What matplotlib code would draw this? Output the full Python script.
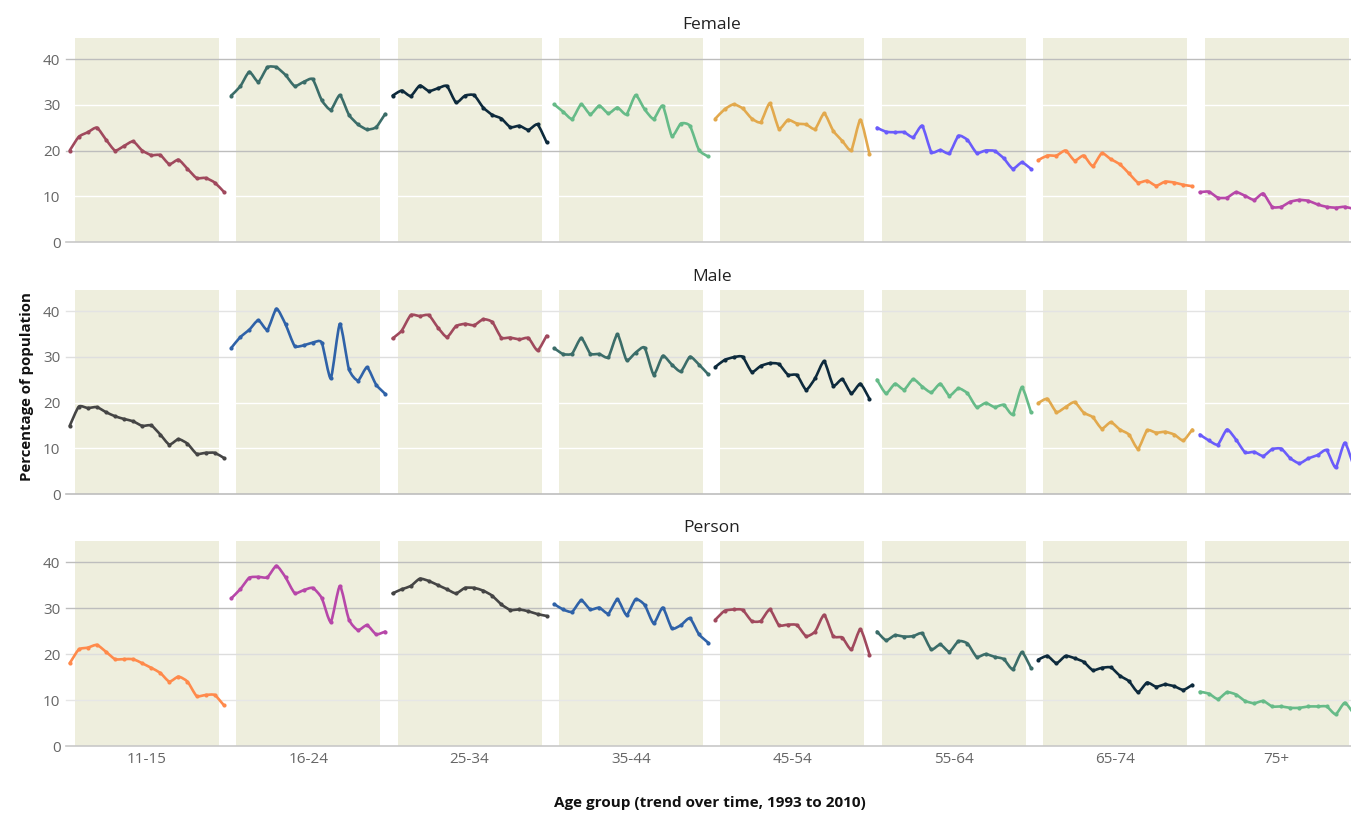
import numpy as np
import matplotlib
matplotlib.use("Agg")
import matplotlib.pyplot as plt
from matplotlib.path import Path
from matplotlib.patches import PathPatch

# ---------------------------------------------------------------- data
years = list(range(1993, 2011))
age_groups = ["11-15", "16-24", "25-34", "35-44", "45-54", "55-64", "65-74", "75+"]
sexes = ["Female", "Male", "Person"]

female = {
    "11-15": [20, 23, 24, 25, 22.4, 20, 21, 22, 20, 19, 19, 17, 18, 16, 14, 14, 13, 11],
    "16-24": [32, 34, 37.2, 35, 38.2, 38.2, 36.5, 34.1, 35, 35.6, 31, 28.9, 32.1, 27.8, 25.7, 24.6, 25.1, 28],
    "25-34": [32, 33.1, 31.9, 34.2, 33, 33.6, 34.1, 30.5, 32, 32.1, 29.4, 27.8, 27, 25.1, 25.4, 24.5, 25.7, 21.8],
    "35-44": [30.1, 28.5, 26.9, 30.1, 27.9, 29.8, 28.1, 29.4, 27.9, 32.1, 29, 26.9, 29.8, 23.2, 25.9, 25.4, 20.1, 18.7],
    "45-54": [27, 29, 30.1, 29.2, 27, 26.2, 30.3, 24.8, 26.7, 25.9, 25.7, 24.7, 28.1, 24.3, 22.1, 20.1, 26.7, 19.2],
    "55-64": [25, 24.1, 24, 24, 22.9, 25.4, 19.7, 20.1, 19.4, 23.2, 22.3, 19.5, 20, 19.9, 18.3, 16, 17.4, 16],
    "65-74": [17.9, 18.9, 18.9, 20, 17.8, 18.9, 16.6, 19.4, 18.1, 17, 15, 13, 13.4, 12.3, 13.2, 13, 12.5, 12.2],
    "75+":   [10.9, 11, 9.7, 9.7, 10.9, 10.1, 9.2, 10.6, 7.7, 7.7, 8.8, 9.2, 9, 8.2, 7.7, 7.5, 7.7, 7.2],
}
male = {
    "11-15": [14.9, 19.1, 18.8, 19, 17.9, 17, 16.4, 15.9, 14.9, 15, 13, 10.8, 12, 11, 8.8, 9, 9, 7.9],
    "16-24": [31.9, 34.3, 35.9, 38, 35.9, 40.5, 37.1, 32.4, 32.5, 33.1, 33.1, 25.3, 37.2, 27.3, 24.8, 27.7, 23.9, 21.9],
    "25-34": [34, 35.7, 39.1, 38.9, 39.1, 36.4, 34.3, 36.7, 37.2, 36.9, 38.2, 37.6, 34.2, 34.2, 33.8, 34.1, 31.4, 34.6],
    "35-44": [31.9, 30.6, 30.7, 34.1, 30.7, 30.6, 29.9, 34.9, 29.3, 30.9, 32, 26.1, 30.2, 28.3, 26.8, 30, 28.3, 26.2],
    "45-54": [27.8, 29.3, 29.9, 30, 26.7, 28, 28.6, 28.4, 26.1, 26, 22.8, 25.3, 29, 23.7, 25.1, 22, 24.1, 20.8],
    "55-64": [25, 22, 24.1, 22.8, 25.1, 23.5, 22.2, 24.1, 21.5, 23.1, 22, 19, 19.9, 19, 19.5, 17.4, 23.3, 17.9],
    "65-74": [19.9, 20.8, 17.9, 19, 20.1, 17.8, 16.8, 14.3, 15.7, 14.1, 13, 9.9, 13.9, 13.4, 13.6, 13, 11.7, 14.1],
    "75+":   [13, 11.7, 10.8, 14.1, 11.9, 9.1, 9.2, 8.3, 9.8, 9.9, 7.8, 6.7, 7.8, 8.5, 9.6, 5.8, 11.2, 6],
}
person = {
    "11-15": [18, 21, 21.4, 22, 20.5, 18.9, 18.9, 18.9, 18, 17, 15.9, 14, 15.1, 14, 10.9, 11.1, 11.1, 8.9],
    "16-24": [32.1, 34.1, 36.6, 36.8, 36.7, 39.2, 36.7, 33.3, 33.9, 34.4, 32.2, 27, 34.8, 27.5, 25.2, 26.3, 24.3, 24.9],
    "25-34": [33.2, 34.1, 34.8, 36.4, 35.9, 35, 34.1, 33.2, 34.4, 34.4, 33.8, 32.7, 30.8, 29.6, 29.7, 29.3, 28.7, 28.3],
    "35-44": [30.9, 29.7, 29.2, 31.7, 29.7, 30.1, 28.8, 31.9, 28.5, 31.9, 30.7, 26.7, 30.1, 25.6, 26.3, 27.8, 24.3, 22.5],
    "45-54": [27.5, 29.4, 29.7, 29.6, 27.2, 27.2, 29.7, 26.3, 26.4, 26.3, 23.9, 24.9, 28.5, 23.9, 23.6, 21, 25.4, 19.9],
    "55-64": [24.9, 23, 24.1, 23.8, 23.9, 24.5, 21, 22.1, 20.5, 22.8, 22.3, 19.4, 20, 19.4, 18.9, 16.7, 20.4, 17],
    "65-74": [18.8, 19.6, 18, 19.6, 19.1, 18.3, 16.5, 17, 17.1, 15.3, 14.1, 11.7, 13.8, 12.9, 13.4, 13, 12.2, 13.3],
    "75+":   [11.8, 11.4, 10.2, 11.7, 11.2, 9.8, 9.3, 9.8, 8.6, 8.6, 8.3, 8.3, 8.6, 8.6, 8.6, 6.9, 9.4, 7],
}
series = {"Female": female, "Male": male, "Person": person}

y_ticks = [0, 10, 20, 30, 40]

# ---------------------------------------------------------------- style
palette = ["#a0495d", "#3b6d69", "#0d2a3c", "#66bb88", "#e2a94d",
           "#6a5cfb", "#ff8a4b", "#b747a9", "#454545", "#2f62a8"]
palette_start = {"Female": 0, "Male": 8, "Person": 6}
band_color = "#eeeedd"
grid_colors = {
    "Female": ["#c8c8c8", "#ffffff", "#bdbdbd", "#ffffff", "#bdbdbd"],
    "Male":   ["#bdbdbd", "#ffffff", "#ffffff", "#dedede", "#e3e3e3"],
    "Person": ["#c8c8c8", "#e6e6e6", "#dddddd", "#bdbdbd", "#bdbdbd"],
}
font = ["Open Sans", "DejaVu Sans"]
plt.rcParams["font.family"] = font

W, H = 1351, 813
fig = plt.figure(figsize=(W / 100, H / 100), dpi=100)

left_px, right_px = 66, 1357.5
panel_px = {"Female": (38, 242), "Male": (290, 494), "Person": (541, 746)}
band_half = 0.446
span_half = 0.477
y_top = 44.6
tension = 0.6


def smooth_path(x, y):
    """Cardinal-spline curve through the points, as cubic Bezier segments."""
    pts = np.column_stack([x, y])
    ext = np.vstack([pts[0], pts, pts[-1]])
    verts = [pts[0]]
    codes = [Path.MOVETO]
    for i in range(1, len(ext) - 2):
        p0, p1, p2, p3 = ext[i - 1], ext[i], ext[i + 1], ext[i + 2]
        c1 = p1 + tension * (p2 - p0) / 6.0
        c2 = p2 - tension * (p3 - p1) / 6.0
        verts += [c1, c2, p2]
        codes += [Path.CURVE4] * 3
    return Path(np.array(verts), codes)


yrs = np.array(years, dtype=float)
offsets = (yrs - yrs.mean()) / (yrs[-1] - yrs[0]) * 2 * span_half

for si, sex in enumerate(sexes):
    top, bottom = panel_px[sex]
    ax = fig.add_axes([left_px / W, 1 - bottom / H,
                       (right_px - left_px) / W, (bottom - top) / H])
    ax.set_xlim(-0.5, len(age_groups) - 0.5)
    ax.set_ylim(0, y_top)
    for sp in ax.spines.values():
        sp.set_visible(False)

    for gi in range(len(age_groups)):
        ax.axvspan(gi - band_half, gi + band_half, color=band_color, lw=0, zorder=1)
    for yv, gc in zip(y_ticks, grid_colors[sex]):
        ax.axhline(yv, color=gc, lw=1.2 if yv == 0 else 1.0, zorder=1.5,
                   clip_on=False)

    for gi, grp in enumerate(age_groups):
        vals = np.array(series[sex][grp], dtype=float)
        xs = gi + offsets
        col = palette[(palette_start[sex] + gi) % len(palette)]
        patch = PathPatch(smooth_path(xs, vals), facecolor="none", edgecolor=col,
                          lw=1.9, capstyle="round", joinstyle="round", zorder=3)
        ax.add_patch(patch)
        ax.plot(xs, vals, "o", color=col, ms=3.0, mew=0, zorder=4)

    ax.set_yticks(y_ticks)
    ax.set_yticklabels([str(v) for v in y_ticks])
    ax.tick_params(axis="y", length=0, pad=4, labelsize=11, labelcolor="#666666")
    ax.set_xticks(range(len(age_groups)))
    if sex == "Person":
        ax.set_xticklabels(age_groups)
        ax.tick_params(axis="x", length=0, pad=4, labelsize=11, labelcolor="#666666")
    else:
        ax.set_xticklabels([])
        ax.tick_params(axis="x", length=0)

    fig.text(712 / W, 1 - (top - 13) / H, sex, ha="center", va="center",
             fontsize=12.5, color="#222222")

fig.text(27 / W, 1 - 387 / H, "Percentage of population", rotation=90,
         ha="center", va="center", fontsize=10.8, fontweight="bold", color="#111111")
fig.text(710 / W, 1 - 803 / H, "Age group (trend over time, 1993 to 2010)",
         ha="center", va="center", fontsize=11, fontweight="bold", color="#111111")

fig.savefig("out.png", dpi=100, facecolor="white")
